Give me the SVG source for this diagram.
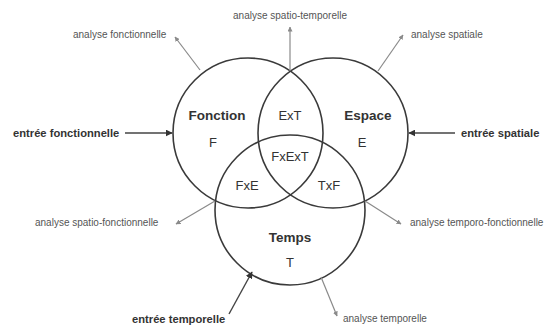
<svg xmlns="http://www.w3.org/2000/svg" width="546" height="328" viewBox="0 0 546 328">
<style>
.c{fill:none;stroke:#3a3a3a;stroke-width:1.6}
.lb{font-family:"Liberation Sans",Arial,sans-serif;font-size:13.5px;font-weight:bold;fill:#333;text-anchor:middle}
.lr{font-family:"Liberation Sans",Arial,sans-serif;font-size:13px;fill:#333;text-anchor:middle}
.sm{font-family:"Liberation Sans",Arial,sans-serif;font-size:10px;fill:#555}
.in{font-family:"Liberation Sans",Arial,sans-serif;font-size:11.2px;font-weight:bold;fill:#333}
.ga{fill:none;stroke:#8a8a8a;stroke-width:1.2;marker-end:url(#mg)}
.da{fill:none;stroke:#444;stroke-width:1.4;marker-end:url(#md)}
</style>
<defs>
<marker id="mg" viewBox="0 0 10 10" refX="9" refY="5" markerWidth="5" markerHeight="5" orient="auto" markerUnits="userSpaceOnUse"><path d="M0,0L10,5L0,10z" fill="#8a8a8a"/></marker>
<marker id="md" viewBox="0 0 10 10" refX="9" refY="5" markerWidth="7" markerHeight="7" orient="auto" markerUnits="userSpaceOnUse"><path d="M0,0L10,5L0,10z" fill="#333"/></marker>
</defs>
<rect width="546" height="328" fill="#fff"/>
<g id="fonction">
<circle class="c" cx="248" cy="133" r="75"/>
<text class="lb" x="217" y="120">Fonction</text>
<text class="lr" x="213" y="147">F</text>
</g>
<g id="espace">
<circle class="c" cx="333" cy="133" r="75"/>
<text class="lb" x="368" y="120">Espace</text>
<text class="lr" x="362" y="147">E</text>
</g>
<g id="temps">
<circle class="c" cx="290" cy="210" r="75"/>
<text class="lb" x="290" y="242">Temps</text>
<text class="lr" x="290" y="267">T</text>
</g>
<g id="intersections">
<text class="lr" x="290" y="120">ExT</text>
<text class="lr" x="290" y="161">FxExT</text>
<text class="lr" x="247" y="190">FxE</text>
<text class="lr" x="329" y="190">TxF</text>
</g>
<g id="connectors">
<line class="ga" x1="290" y1="71" x2="290" y2="27"/>
<line class="ga" x1="200" y1="70" x2="175" y2="37"/>
<line class="ga" x1="378" y1="71" x2="403" y2="35"/>
<line class="ga" x1="215" y1="201" x2="176" y2="224"/>
<line class="ga" x1="365" y1="201" x2="401" y2="224"/>
<line class="ga" x1="321" y1="277" x2="337" y2="316"/>
<line class="da" x1="125" y1="133" x2="172" y2="133"/>
<line class="da" x1="455" y1="133" x2="409" y2="133"/>
<line class="da" x1="229" y1="314" x2="252" y2="272"/>
</g>
<g id="labels">
<text class="sm" x="290" y="19" text-anchor="middle">analyse spatio-temporelle</text>
<text class="sm" x="73" y="38">analyse fonctionnelle</text>
<text class="sm" x="411" y="38">analyse spatiale</text>
<text class="sm" x="35" y="226">analyse spatio-fonctionnelle</text>
<text class="sm" x="410" y="226">analyse temporo-fonctionnelle</text>
<text class="sm" x="343" y="322">analyse temporelle</text>
<text class="in" x="13" y="137">entrée fonctionnelle</text>
<text class="in" x="461" y="137">entrée spatiale</text>
<text class="in" x="132" y="323">entrée temporelle</text>
</g>
</svg>
